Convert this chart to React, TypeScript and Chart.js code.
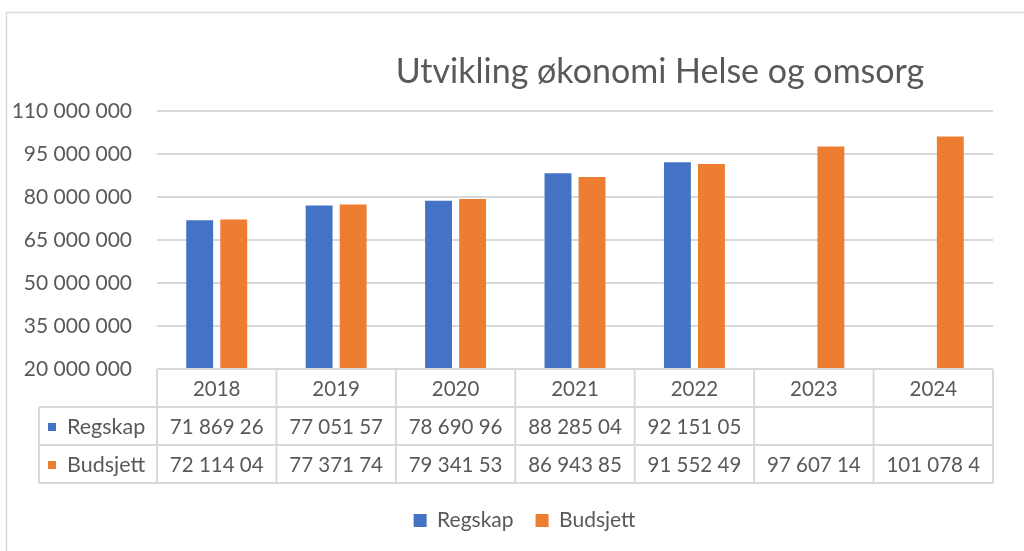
import React, { useEffect, useRef } from "react";
import { Chart, registerables } from "chart.js";

Chart.register(...registerables);

const chartTitle = "Utvikling økonomi Helse og omsorg";
const years = ["2018", "2019", "2020", "2021", "2022", "2023", "2024"];
const seriesNames = ["Regskap", "Budsjett"];
const seriesColors = ["#4472C4", "#ED7D31"];
const regskap = [71869260, 77051570, 78690960, 88285040, 92151050, null, null];
const budsjett = [72114040, 77371740, 79341530, 86943850, 91552490, 97607140, 101078400];
const regskapTable = ["71 869 26", "77 051 57", "78 690 96", "88 285 04", "92 151 05", "", ""];
const budsjettTable = ["72 114 04", "77 371 74", "79 341 53", "86 943 85", "91 552 49", "97 607 14", "101 078 4"];
const yMin = 20000000;
const yMax = 110000000;
const yStep = 15000000;

const FONT = "Lato, 'Open Sans', sans-serif";
const TEXT = "#595959";
const LINE = "#d9d9d9";

function fmt(v: number): string {
  return String(Math.round(v)).replace(/\B(?=(\d{3})+(?!\d))/g, " ");
}

const framePlugin = {
  id: "frame",
  afterLayout(chart: any) {
    const lg = chart.legend;
    if (lg) {
      lg.left += 28;
      lg.right += 28;
    }
  },
  beforeDraw(chart: any) {
    const ctx = chart.ctx;
    ctx.save();
    ctx.fillStyle = "#ffffff";
    ctx.fillRect(0, 0, chart.width, chart.height);
    ctx.strokeStyle = LINE;
    ctx.lineWidth = 1.5;
    ctx.strokeRect(6.5, 12.5, chart.width + 20, chart.height + 20);
    ctx.fillStyle = TEXT;
    ctx.font = `34px ${FONT}`;
    ctx.textAlign = "center";
    ctx.textBaseline = "alphabetic";
    ctx.fillText(chartTitle, 660, 83);
    ctx.restore();
  },
};

const tablePlugin = {
  id: "dataTable",
  afterDraw(chart: any) {
    const ctx = chart.ctx;
    const area = chart.chartArea;
    const x = chart.scales.x;
    const n = years.length;
    const w = (area.right - area.left) / n;
    const top = area.bottom;
    const rowH = 38;
    const tableLeft = 39;
    const bottom = top + rowH * 3;
    ctx.save();
    ctx.strokeStyle = LINE;
    ctx.lineWidth = 2;
    ctx.beginPath();
    ctx.moveTo(area.left, top);
    ctx.lineTo(area.right, top);
    for (let r = 1; r <= 3; r++) {
      ctx.moveTo(tableLeft, top + rowH * r);
      ctx.lineTo(area.right, top + rowH * r);
    }
    for (let i = 0; i <= n; i++) {
      const lx = area.left + i * w;
      ctx.moveTo(lx, top);
      ctx.lineTo(lx, bottom);
    }
    ctx.moveTo(tableLeft, top + rowH);
    ctx.lineTo(tableLeft, bottom);
    ctx.stroke();

    ctx.fillStyle = TEXT;
    ctx.font = `20.5px ${FONT}`;
    ctx.textAlign = "center";
    ctx.textBaseline = "middle";
    const rows = [regskapTable, budsjettTable];
    for (let i = 0; i < n; i++) {
      const cx = x.getPixelForValue(i);
      ctx.fillText(years[i], cx, top + rowH / 2 + 1);
      rows.forEach((row, r) => {
        ctx.fillText(row[i], cx, top + rowH * (r + 1) + rowH / 2 + 1);
      });
    }
    ctx.textAlign = "left";
    ctx.font = `21.5px ${FONT}`;
    seriesNames.forEach((name, r) => {
      const cy = top + rowH * (r + 1) + rowH / 2 + 1;
      ctx.fillStyle = seriesColors[r];
      ctx.fillRect(48, cy - 4, 8, 8);
      ctx.fillStyle = TEXT;
      ctx.fillText(name, 67, cy);
    });
    ctx.restore();
  },
};

export default function App() {
  const ref = useRef<HTMLCanvasElement | null>(null);
  useEffect(() => {
    if (!ref.current) return;
    const chart = new Chart(ref.current, {
      type: "bar",
      data: {
        labels: years,
        datasets: [
          {
            label: seriesNames[0],
            data: regskap as any,
            backgroundColor: seriesColors[0],
            borderWidth: 0,
            categoryPercentage: 0.57,
            barPercentage: 0.79,
          },
          {
            label: seriesNames[1],
            data: budsjett,
            backgroundColor: seriesColors[1],
            borderWidth: 0,
            categoryPercentage: 0.57,
            barPercentage: 0.79,
          },
        ],
      },
      options: {
        animation: false,
        responsive: false,
        devicePixelRatio: 1,
        layout: { padding: { top: 111, left: 0, right: 31, bottom: 10 } },
        plugins: {
          title: { display: false },
          tooltip: { enabled: false },
          legend: {
            position: "bottom",
            labels: {
              boxWidth: 13,
              boxHeight: 13,
              padding: 22,
              color: TEXT,
              font: { family: FONT, size: 21 },
            },
          },
        },
        scales: {
          x: {
            grid: { display: false },
            border: { display: false },
            ticks: { display: false },
            afterFit(scale: any) {
              scale.height = 119;
            },
          },
          y: {
            min: yMin,
            max: yMax,
            grid: { color: LINE, lineWidth: 2, drawTicks: false },
            border: { display: false },
            ticks: {
              stepSize: yStep,
              padding: 25,
              color: TEXT,
              font: { family: FONT, size: 21 },
              callback: (v: any) => fmt(Number(v)),
            },
            afterFit(scale: any) {
              scale.width = 157;
            },
          },
        },
      },
      plugins: [framePlugin, tablePlugin],
    });
    return () => chart.destroy();
  }, []);
  return (
    <div style={{ position: "fixed", left: 0, top: 0, width: 1024, height: 551, background: "#fff" }}>
      <canvas ref={ref} width={1024} height={551} style={{ display: "block" }} />
    </div>
  );
}
